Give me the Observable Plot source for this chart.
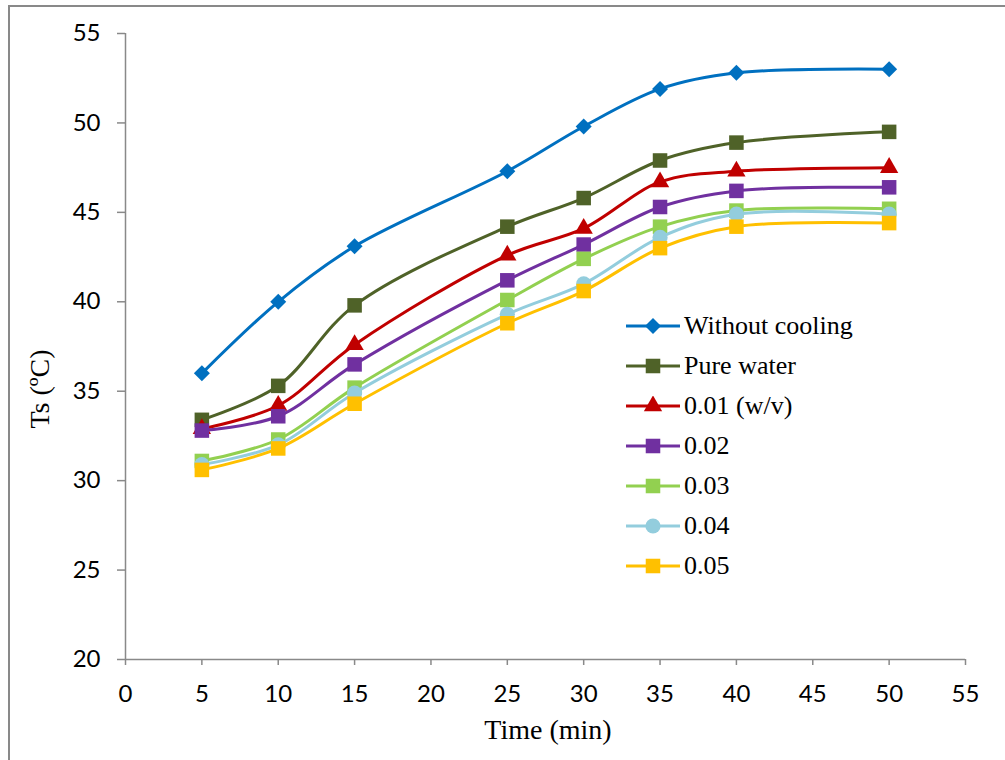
<!DOCTYPE html>
<html>
<head>
<meta charset="utf-8">
<script src="https://cdn.jsdelivr.net/npm/d3@7"></script>
<script src="https://cdn.jsdelivr.net/npm/@observablehq/plot@0.6"></script>
<style>
  body { margin: 0; background: #fff; }
  #wrap { position: relative; width: 1005px; height: 760px; overflow: hidden; }
  #frame { position: absolute; left: 8px; top: 5px; width: 1100px; height: 900px;
           border-left: 2px solid #898989; border-top: 2px solid #898989; }
  #chart { position: absolute; left: 0; top: 0; }
  #legend { position: absolute; left: 624px; top: 306px; font-family: "Liberation Serif", serif;
            font-size: 26px; color: #000; }
  .row { display: flex; align-items: center; height: 40px; white-space: nowrap; }
  .row svg { margin-right: 2px; flex: none; }
  .title { position: absolute; font-family: "Liberation Serif", serif; font-size: 28px; color: #000;
           white-space: nowrap; line-height: 1; }
  #ytitle { left: 40px; top: 389px; transform: translate(-50%, -50%) rotate(-90deg); }
  #xtitle { left: 548px; top: 730px; transform: translate(-50%, -50%); }
</style>
</head>
<body>
<div id="wrap"><div id="frame"></div><div id="chart"></div><div id="legend"></div>
<div class="title" id="ytitle"></div><div class="title" id="xtitle"></div></div>
<script>
const times = [5, 10, 15, 25, 30, 35, 40, 50];
const withoutCooling = [36.0, 40.0, 43.1, 47.3, 49.8, 51.9, 52.8, 53.0];
const pureWater      = [33.4, 35.3, 39.8, 44.2, 45.8, 47.9, 48.9, 49.5];
const c001           = [32.9, 34.2, 37.6, 42.6, 44.1, 46.7, 47.3, 47.5];
const c002           = [32.8, 33.6, 36.5, 41.2, 43.2, 45.3, 46.2, 46.4];
const c003           = [31.1, 32.3, 35.2, 40.1, 42.4, 44.2, 45.1, 45.2];
const c004           = [30.9, 32.0, 34.9, 39.3, 41.0, 43.6, 44.9, 44.9];
const c005           = [30.6, 31.8, 34.3, 38.8, 40.6, 43.0, 44.2, 44.4];

const seriesNames = ["Without cooling", "Pure water", "0.01 (w/v)", "0.02", "0.03", "0.04", "0.05"];
const seriesValues = [withoutCooling, pureWater, c001, c002, c003, c004, c005];
const seriesColors = ["#0070C0", "#4F6228", "#C00000", "#7030A0", "#92D050", "#93CDDD", "#FFC000"];
const seriesSymbols = ["diamond2", "square", "triangle", "square", "square", "circle", "square"];
const symbolR = {diamond2: 7.2, square: 8.2, triangle: 6.8, circle: 7.6};

const xTicks = [0, 5, 10, 15, 20, 25, 30, 35, 40, 45, 50, 55];
const yTicks = [20, 25, 30, 35, 40, 45, 50, 55];
const xTitle = "Time (min)";
const yTitle = "Ts (ºC)";

const marks = [];
seriesNames.forEach((name, i) => {
  const data = times.map((t, j) => ({time: t, ts: seriesValues[i][j]}));
  marks.push(Plot.line(data, {x: "time", y: "ts", stroke: seriesColors[i], strokeWidth: 3, curve: "catmull-rom"}));
  marks.push(Plot.dot(data, {x: "time", y: "ts", fill: seriesColors[i], stroke: "none",
    symbol: () => seriesSymbols[i], r: symbolR[seriesSymbols[i]]}));
});

const chart = Plot.plot({
  width: 1005, height: 760,
  marginLeft: 125, marginRight: 40, marginTop: 33, marginBottom: 101,
  style: {background: "transparent", fontFamily: "Lato, 'Liberation Sans', sans-serif", fontSize: "24px", color: "#000"},
  symbol: {type: "identity"},
  x: {domain: [0, 55], ticks: xTicks, label: null},
  y: {domain: [20, 55], ticks: yTicks, label: null},
  marks: [
    Plot.axisX({ticks: xTicks, tickSize: 6, tickPadding: 19, stroke: "#898989", strokeWidth: 1.5, label: null, fill: "#000", fontSize: 24}),
    Plot.axisY({ticks: yTicks, tickSize: 8, tickPadding: 17, stroke: "#898989", strokeWidth: 1.5, label: null, fill: "#000", fontSize: 24}),
    Plot.ruleY([20], {stroke: "#898989", strokeWidth: 1.5}),
    Plot.ruleX([0], {stroke: "#898989", strokeWidth: 1.5}),
    ...marks
  ]
});
document.getElementById("chart").appendChild(chart);
document.getElementById("xtitle").textContent = xTitle;
document.getElementById("ytitle").textContent = yTitle;

// Legend
const legend = document.getElementById("legend");
const symGen = {diamond2: d3.symbolDiamond2, square: d3.symbolSquare, triangle: d3.symbolTriangle, circle: d3.symbolCircle};
seriesNames.forEach((name, i) => {
  const row = document.createElement("div");
  row.className = "row";
  const r = symbolR[seriesSymbols[i]];
  const path = d3.symbol(symGen[seriesSymbols[i]], Math.PI * r * r)();
  row.innerHTML = `<svg width="58" height="20"><line x1="2" x2="56" y1="10" y2="10" stroke="${seriesColors[i]}" stroke-width="3"/>` +
    `<path d="${path}" transform="translate(29,10)" fill="${seriesColors[i]}"/></svg><span>${name}</span>`;
  legend.appendChild(row);
});
</script>
</body>
</html>
